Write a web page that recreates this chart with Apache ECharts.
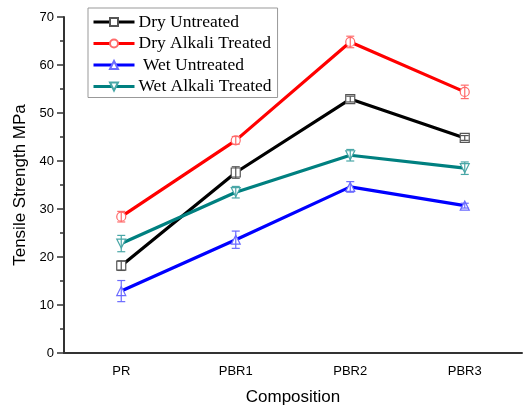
<!DOCTYPE html>
<html><head><meta charset="utf-8">
<script src="https://cdn.jsdelivr.net/npm/echarts@6/dist/echarts.min.js"></script>
<style>html,body{margin:0;padding:0;background:#fff}#c{width:524px;height:408px}</style>
</head><body><div id="c"></div>
<script>
var categories = ['PR', 'PBR1', 'PBR2', 'PBR3'];
var seriesNames = ['Dry Untreated', 'Dry Alkali Treated', 'Wet Untreated', 'Wet Alkali Treated'];
var dryUntreated = [18.2, 37.6, 52.9, 44.8];
var dryUntreatedErr = [1.0, 1.2, 0.6, 0.5];
var dryAlkali = [28.4, 44.3, 64.8, 54.4];
var dryAlkaliErr = [1.1, 0.8, 1.2, 1.4];
var wetUntreated = [12.9, 23.6, 34.6, 30.7];
var wetUntreatedErr = [2.2, 1.8, 1.1, 0.5];
var wetAlkali = [22.8, 33.5, 41.2, 38.5];
var wetAlkaliErr = [1.7, 1.2, 1.2, 1.3];
var yTicks = [0, 10, 20, 30, 40, 50, 60, 70];

var lineColors = ['#000000', '#ff0000', '#0000ff', '#008080'];
var markColors = ['#555555', '#ff6b6b', '#6b6bff', '#4aa7a7'];
var symbols = ['rect', 'circle', 'triangle', 'triangle'];
var rotates = [0, 0, 0, 180];
var values = [dryUntreated, dryAlkali, wetUntreated, wetAlkali];
var errs = [dryUntreatedErr, dryAlkaliErr, wetUntreatedErr, wetAlkaliErr];

var series = [];
values.forEach(function (vals, i) {
  series.push({
    name: seriesNames[i], type: 'line', data: vals,
    symbol: symbols[i], symbolRotate: rotates[i], symbolSize: 9,
    showAllSymbol: true,
    lineStyle: { color: lineColors[i], width: 3.2 },
    itemStyle: { color: '#ffffff', borderColor: markColors[i], borderWidth: 1.2 },
    emphasis: { disabled: true }, z: 3, animation: false
  });
  var ed = vals.map(function (v, k) { return [k, v - errs[i][k], v + errs[i][k]]; });
  series.push({
    type: 'custom', data: ed, z: 4, silent: true, animation: false,
    renderItem: (function (col) {
      return function (params, api) {
        var lo = api.coord([api.value(0), api.value(1)]);
        var hi = api.coord([api.value(0), api.value(2)]);
        var w = 4;
        var st = { stroke: col, lineWidth: 1.2, fill: null };
        return { type: 'group', children: [
          { type: 'line', shape: { x1: lo[0], y1: lo[1], x2: hi[0], y2: hi[1] }, style: st },
          { type: 'line', shape: { x1: lo[0] - w, y1: lo[1], x2: lo[0] + w, y2: lo[1] }, style: st },
          { type: 'line', shape: { x1: hi[0] - w, y1: hi[1], x2: hi[0] + w, y2: hi[1] }, style: st }
        ]};
      };
    })(markColors[i]),
    encode: { x: 0, y: [1, 2] }
  });
});

var chart = echarts.init(document.getElementById('c'), null, { renderer: 'canvas' });
chart.setOption({
  animation: false,
  backgroundColor: '#ffffff',
  grid: { left: 64, right: 2, top: 17, bottom: 55, containLabel: false, outerBoundsMode: 'none' },
  legend: {
    data: seriesNames, orient: 'vertical', left: 88, top: 8,
    padding: [5, 6, 2, 4], itemGap: 3.5, itemWidth: 41, itemHeight: 10,
    borderColor: '#999', borderWidth: 1, backgroundColor: '#fff',
    lineStyle: { width: 3 },
    formatter: function (n) { return n === 'Wet Untreated' ? ' ' + n : n; },
    textStyle: { fontFamily: 'Liberation Serif', fontSize: 17.5, color: '#000', lineHeight: 17, padding: [0, 0, 0, -1] },
    selectedMode: false
  },
  xAxis: {
    type: 'category', data: categories, boundaryGap: true,
    name: 'Composition', nameLocation: 'middle', nameGap: 36,
    nameTextStyle: { fontFamily: 'Liberation Sans', fontSize: 17, color: '#000' },
    axisLine: { lineStyle: { color: '#333', width: 2 } },
    axisTick: { alignWithLabel: true, length: 6, lineStyle: { color: '#333', width: 1.5 } },
    axisLabel: { fontFamily: 'Liberation Sans', fontSize: 13, color: '#000', margin: 12 },
    splitLine: { show: false }
  },
  yAxis: {
    type: 'value', min: 0, max: 70, interval: 10,
    name: 'Tensile Strength MPa', nameLocation: 'middle', nameGap: 32,
    nameTextStyle: { fontFamily: 'Liberation Sans', fontSize: 17, color: '#000' },
    axisLine: { show: true, lineStyle: { color: '#333', width: 2 } },
    axisTick: { show: true, length: 7, lineStyle: { color: '#333', width: 1.5 } },
    minorTick: { show: true, splitNumber: 2, length: 4, lineStyle: { color: '#333', width: 1.5 } },
    axisLabel: { fontFamily: 'Liberation Sans', fontSize: 13, color: '#000', margin: 10,
      formatter: function (v) { return yTicks.indexOf(v) >= 0 ? String(v) : ''; } },
    splitLine: { show: false }
  },
  series: series
});
</script></body></html>
